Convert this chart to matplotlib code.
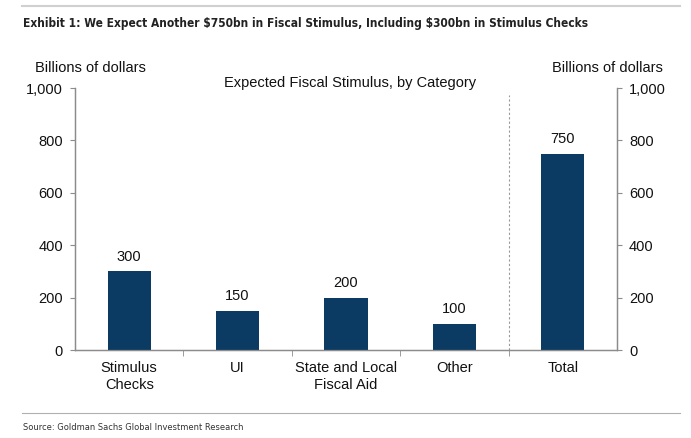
import matplotlib
matplotlib.use("Agg")
import matplotlib.pyplot as plt
from matplotlib.lines import Line2D

categories = ["Stimulus\nChecks", "UI", "State and Local\nFiscal Aid", "Other", "Total"]
values = [300, 150, 200, 100, 750]
yticks = [0, 200, 400, 600, 800, 1000]
ytick_labels = ["0", "200", "400", "600", "800", "1,000"]

bar_color = "#0b3a62"
spine_color = "#8c8c8c"
plt.rcParams["font.family"] = ["Liberation Sans", "DejaVu Sans"]

fig = plt.figure(figsize=(6.91, 4.38), dpi=100)
ax = fig.add_axes([75 / 691, 1 - 350 / 438, 542 / 691, 262 / 438])

x = list(range(len(categories)))
ax.bar(x, values, width=0.4, color=bar_color, zorder=3)
for xi, v in zip(x, values):
    ax.text(xi, v + 30, str(v), ha="center", va="bottom", fontsize=10.5, color="#111111")

ax.set_xlim(-0.5, len(categories) - 0.5)
ax.set_ylim(0, 1000)
ax.set_yticks(yticks)
ax.set_yticklabels(ytick_labels)
ax.set_xticks(x)
ax.set_xticklabels(categories, fontsize=10.5, color="#111111", linespacing=1.25)
ax.tick_params(axis="x", length=0, pad=8)
# category boundary ticks
ax.set_xticks([i - 0.5 for i in range(1, len(categories))], minor=True)
ax.tick_params(axis="x", which="minor", length=4, color=spine_color, direction="out")
ax.tick_params(axis="y", length=3.6, color=spine_color, labelsize=10.5, labelcolor="#111111", pad=5)

ax2 = ax.twinx()
ax2.set_ylim(0, 1000)
ax2.set_yticks(yticks)
ax2.set_yticklabels(ytick_labels)
ax2.tick_params(axis="y", length=3.6, color=spine_color, labelsize=10.5, labelcolor="#111111", pad=5)

for a in (ax, ax2):
    a.spines["top"].set_visible(False)
    for s in ("left", "right", "bottom"):
        a.spines[s].set_color(spine_color)
        a.spines[s].set_linewidth(0.9)

# dashed separator before Total
ax.axvline(len(categories) - 1.5, ymin=0, ymax=0.975, color="#9a9a9a",
           linestyle=(0, (2, 2)), linewidth=0.8, zorder=1)

fig.text(35 / 691, 1 - 68 / 438, "Billions of dollars", fontsize=10.5, va="center", ha="left", color="#111111")
fig.text(663 / 691, 1 - 68 / 438, "Billions of dollars", fontsize=10.5, va="center", ha="right", color="#111111")
fig.text(350 / 691, 1 - 83 / 438, "Expected Fiscal Stimulus, by Category", fontsize=10.5,
         va="center", ha="center", color="#111111")

fig.text(23 / 691, 1 - 24 / 438,
         r"Exhibit 1: We Expect Another \$750bn in Fiscal Stimulus, Including \$300bn in Stimulus Checks",
         fontsize=8.6, fontweight="bold", family="DejaVu Sans", fontstretch="condensed",
         va="center", ha="left", color="#222222")
fig.text(23 / 691, 1 - 428 / 438, "Source: Goldman Sachs Global Investment Research",
         fontsize=6.7, family="DejaVu Sans", fontstretch="condensed",
         va="center", ha="left", color="#333333")

fig.add_artist(Line2D([22 / 691, 680 / 691], [1 - 6 / 438, 1 - 6 / 438],
                      color="#d0d0d0", linewidth=1.5, transform=fig.transFigure))
fig.add_artist(Line2D([22 / 691, 680 / 691], [1 - 413 / 438, 1 - 413 / 438],
                      color="#b0b0b0", linewidth=0.8, transform=fig.transFigure))

fig.savefig("out.png", dpi=100)
